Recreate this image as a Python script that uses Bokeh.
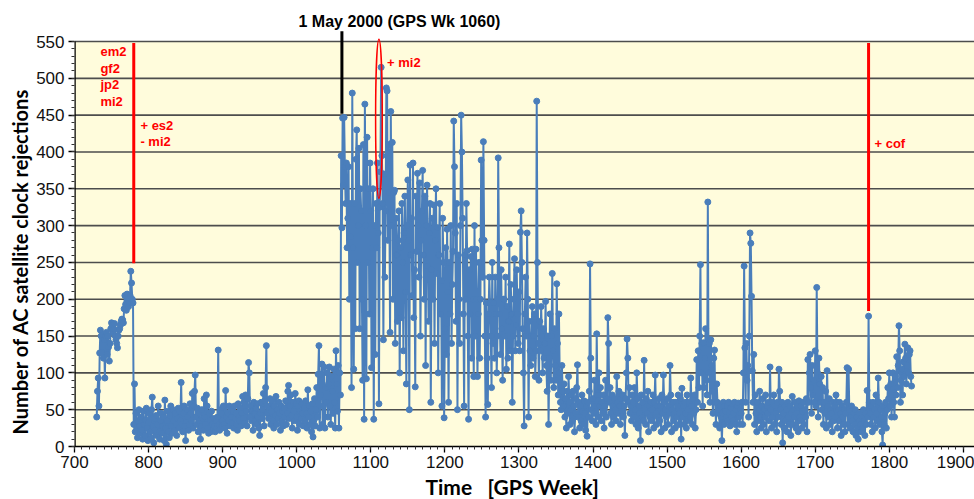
import numpy as np
from bokeh.plotting import figure
from bokeh.models import FixedTicker, Range1d, Title
from bokeh.embed import file_html
from bokeh.resources import INLINE
from bokeh.core.properties import value

# ---------------- data ----------------
first_week = 730
rejections = [
    40, 75, 93, 55, 127, 158, 150, 128, 152, 120,      # 730
    145, 93, 150, 155, 125, 150, 135, 116, 140, 160,   # 740
    168, 165, 155, 160, 167, 150, 145, 140, 134, 150,  # 750
    158, 160, 165, 170, 173, 172, 168, 187, 205, 193,  # 760
    185, 207, 200, 190, 196, 205, 238, 222, 200, 195,  # 770
    30, 85, 20, 45, 25, 12, 35, 50, 28, 18,            # 780
    40, 22, 10, 48, 30, 15, 36, 52, 25, 8,             # 790
    33, 45, 20, 12, 50, 67, 28, 5, 38, 22,             # 800
    42, 15, 30, 55, 20, 10, 35, 45, 18, 28,            # 810
    40, 8, 63, 25, 3, 35, 48, 20, 12, 42,              # 820
    55, 28, 18, 50, 35, 22, 45, 30, 15, 38,            # 830
    52, 25, 48, 35, 87, 30, 20, 45, 55, 28,            # 840
    8, 35, 50, 40, 22, 30, 58, 45, 35, 72,             # 850
    25, 55, 75, 97, 40, 30, 52, 20, 45, 35,            # 860
    10, 28, 50, 38, 22, 65, 40, 30, 70, 55,            # 870
    25, 18, 45, 35, 20, 48, 30, 22, 38, 28,            # 880
    20, 35, 25, 40, 131, 30, 22, 50, 45, 28,           # 890
    35, 55, 30, 25, 76, 40, 18, 45, 35, 55,            # 900
    28, 50, 40, 32, 48, 25, 55, 38, 45, 30,            # 910
    22, 58, 40, 35, 52, 28, 45, 68, 38, 60,            # 920
    32, 70, 48, 28, 65, 114, 100, 40, 55, 35,          # 930
    48, 22, 60, 45, 35, 52, 30, 58, 40, 25,            # 940
    15, 45, 60, 38, 50, 72, 28, 62, 80, 137,           # 950
    45, 55, 38, 50, 65, 30, 48, 62, 35, 25,            # 960
    55, 42, 68, 30, 50, 38, 60, 45, 22, 55,            # 970
    35, 48, 28, 52, 40, 62, 30, 45, 75, 83,            # 980
    38, 55, 70, 42, 25, 60, 48, 35, 72, 58,            # 990
    40, 22, 55, 62, 30, 48, 38, 58, 45, 28,            # 1000
    52, 35, 62, 45, 25, 77, 40, 55, 30, 48,            # 1010
    20, 58, 13, 35, 65, 28, 50, 80, 40, 98,            # 1020
    137, 25, 70, 98, 112, 30, 55, 108, 25, 80,         # 1030
    60, 100, 40, 85, 108, 55, 30, 95, 75, 45,          # 1040
    105, 60, 25, 130, 85, 48, 110, 25, 100, 70,        # 1050
    395, 297, 446, 355, 447, 380, 330, 385, 270, 310,  # 1060
    380, 200, 330, 285, 80, 480, 270, 105, 330, 160,   # 1070
    390, 430, 250, 300, 405, 160, 350, 320, 200, 90,   # 1080
    410, 37, 465, 300, 92, 420, 250, 350, 180, 385,    # 1090
    320, 107, 270, 350, 37, 300, 125, 330, 270, 385,   # 1100
    290, 58, 325, 373, 515, 395, 330, 145, 370, 230,   # 1110
    320, 487, 483, 280, 410, 345, 155, 455, 300, 413,  # 1120
    200, 345, 348, 140, 310, 260, 170, 280, 320, 100,  # 1130
    270, 175, 330, 250, 130, 290, 340, 210, 85, 300,   # 1140
    362, 280, 50, 382, 260, 310, 205, 385, 175, 240,   # 1150
    81, 340, 265, 371, 300, 230, 358, 150, 280, 320,   # 1160
    375, 260, 200, 340, 110, 300, 355, 245, 170, 290,  # 1170
    330, 60, 240, 310, 200, 328, 140, 280, 350, 235,   # 1180
    297, 100, 260, 330, 180, 225, 55, 310, 250, 39,    # 1190
    160, 270, 125, 295, 210, 60, 250, 180, 300, 140,   # 1200
    220, 265, 442, 380, 290, 170, 330, 50, 260, 200,   # 1210
    140, 300, 450, 400, 310, 180, 55, 260, 200, 330,   # 1220
    266, 150, 37, 240, 180, 258, 120, 268, 200, 95,    # 1230
    300, 150, 268, 200, 95, 180, 250, 120, 200, 389,   # 1240
    280, 230, 414, 280, 150, 40, 195, 120, 57, 180,    # 1250
    230, 195, 150, 80, 250, 140, 195, 120, 230, 180,   # 1260
    100, 150, 392, 270, 180, 125, 240, 160, 90, 200,   # 1270
    200, 150, 230, 105, 190, 120, 170, 275, 130, 220,  # 1280
    180, 60, 150, 200, 255, 130, 165, 240, 180, 140,   # 1290
    210, 130, 291, 320, 250, 160, 100, 28, 180, 230,   # 1300
    150, 290, 200, 40, 170, 130, 110, 150, 190, 120,   # 1310
    150, 180, 95, 130, 469, 250, 140, 90, 170, 130,    # 1320
    190, 150, 100, 160, 120, 140, 197, 110, 75, 150,   # 1330
    30, 120, 180, 90, 150, 235, 130, 80, 160, 110,     # 1340
    90, 221, 140, 70, 180, 100, 60, 50, 110, 75,       # 1350
    55, 85, 40, 65, 25, 75, 45, 95, 60, 30,            # 1360
    50, 70, 35, 75, 55, 20, 45, 65, 80, 111,           # 1370
    40, 60, 25, 55, 35, 70, 48, 30, 62, 45,            # 1380
    22, 55, 14, 60, 40, 75, 248, 120, 50, 35,          # 1390
    65, 45, 90, 55, 30, 153, 70, 40, 100, 55,          # 1400
    80, 35, 60, 45, 70, 25, 55, 90, 40, 65,            # 1410
    175, 140, 60, 80, 45, 30, 70, 55, 40, 65,          # 1420
    50, 35, 95, 60, 45, 75, 55, 30, 65, 48,            # 1430
    70, 40, 55, 15, 65, 100, 146, 120, 60, 80,         # 1440
    45, 55, 35, 70, 60, 40, 80, 50, 30, 100,           # 1450
    65, 25, 55, 45, 8, 70, 40, 60, 35, 117,            # 1460
    50, 30, 65, 45, 75, 20, 55, 40, 60, 35,            # 1470
    50, 70, 25, 60, 97, 45, 30, 55, 40, 65,            # 1480
    35, 55, 20, 70, 45, 97, 60, 25, 50, 40,            # 1490
    65, 30, 55, 45, 110, 70, 20, 50, 60, 35,           # 1500
    45, 25, 60, 40, 55, 70, 30, 45, 65, 10,            # 1510
    79, 40, 55, 30, 60, 45, 25, 70, 50, 35,            # 1520
    60, 40, 93, 55, 30, 65, 45, 70, 25, 50,            # 1530
    118, 60, 130, 80, 150, 247, 100, 140, 55, 141,     # 1540
    80, 120, 160, 90, 70, 332, 100, 140, 60, 145,      # 1550
    110, 75, 45, 120, 131, 60, 30, 85, 60, 45,         # 1560
    50, 25, 55, 40, 8, 45, 60, 30, 55, 48,             # 1570
    40, 55, 35, 60, 45, 28, 52, 40, 58, 35,            # 1580
    45, 60, 30, 50, 20, 55, 59, 40, 30, 50,            # 1590
    45, 60, 30, 100, 245, 134, 60, 140, 90, 110,       # 1600
    40, 150, 290, 276, 204, 103, 60, 125, 30, 70,      # 1610
    45, 20, 60, 35, 50, 75, 40, 25, 55, 65,            # 1620
    30, 50, 40, 70, 20, 55, 45, 60, 35, 108,           # 1630
    50, 25, 60, 40, 70, 30, 55, 45, 20, 60,            # 1640
    40, 105, 75, 50, 30, 60, 5, 45, 25, 55,            # 1650
    35, 50, 20, 60, 40, 30, 55, 15, 45, 68,            # 1660
    30, 50, 40, 60, 25, 45, 55, 20, 62, 40,            # 1670
    35, 55, 25, 48, 60, 30, 50, 40, 65, 20,            # 1680
    118, 60, 100, 125, 80, 45, 110, 70, 90, 60,        # 1690
    130, 55, 216, 100, 40, 120, 85, 60, 95, 50,        # 1700
    80, 30, 60, 45, 75, 25, 103, 55, 40, 65,           # 1710
    30, 50, 45, 20, 60, 35, 55, 40, 70, 60,            # 1720
    25, 50, 35, 60, 45, 15, 55, 40, 30, 50,            # 1730
    20, 45, 60, 107, 30, 105, 50, 25, 40, 55,          # 1740
    35, 20, 45, 30, 50, 15, 40, 25, 10, 35,            # 1750
    45, 30, 20, 40, 25, 50, 35, 15, 45, 30,            # 1760
    76, 40, 177, 60, 45, 30, 55, 20, 60, 40,           # 1770
    50, 25, 70, 45, 35, 93, 60, 30, 50, 40,            # 1780
    20, 2, 55, 30, 45, 60, 25, 50, 80, 65,             # 1790
    100, 55, 85, 40, 70, 100, 60, 40, 95, 70,          # 1800
    122, 80, 110, 164, 130, 60, 90, 105, 70, 115,      # 1810
    95, 139, 120, 85, 110, 134, 100, 125, 130, 95,     # 1820
    82,                                                # 1830
]
weeks = list(range(first_week, first_week + len(rejections)))

x_ticks = list(range(700, 2000, 100))
y_ticks = list(range(0, 551, 50))

# solution changes (red lines) and event (black line)
change_weeks = [780, 1772]
change_bottoms = [249, 184]
event_week = 1061
event_title = "1 May 2000 (GPS Wk 1060)"

# ---------------- figure ----------------
X0, X1 = 700, 1915
YTOP = 565
p = figure(width=974, height=499, output_backend="svg", toolbar_location=None,
           x_range=Range1d(X0, X1), y_range=Range1d(0, YTOP),
           min_border_left=74, min_border_right=0, min_border_top=30,
           min_border_bottom=52)
p.background_fill_color = "white"
p.border_fill_color = "white"
p.outline_line_color = None
p.grid.visible = False

# title (event)
p.title.text = event_title
p.title.align = "left"
p.title.offset = 224
p.title.text_font = "Liberation Sans"
p.title.text_font_style = "bold"
p.title.text_font_size = "16px"
p.title.text_color = "black"
p.title.standoff = 2

# plot area background (yellow) up to 550
p.quad(left=X0, right=X1, bottom=0, top=550, fill_color="#FFFCDC", line_color=None)
# horizontal grid lines
p.segment(x0=[X0] * (len(y_ticks) - 1), x1=[X1] * (len(y_ticks) - 1),
          y0=y_ticks[1:], y1=y_ticks[1:], line_color="#4d4d4d", line_width=1.6)
# left frame edge
p.segment(x0=[X0], x1=[X0], y0=[0], y1=[550], line_color="black", line_width=2.5)

# axes
p.xaxis.ticker = FixedTicker(ticks=x_ticks, minor_ticks=list(range(700, 1910, 10)))
p.yaxis.ticker = FixedTicker(ticks=y_ticks, minor_ticks=list(range(0, 551, 10)))
for ax in (p.xaxis, p.yaxis):
    ax.major_tick_in = 0
    ax.major_tick_out = 6
    ax.minor_tick_in = 0
    ax.minor_tick_out = 3
    ax.major_tick_line_color = "black"
    ax.minor_tick_line_color = "#333333"
    ax.major_tick_line_width = 1.3
    ax.minor_tick_line_width = 1
    ax.major_label_text_font = "Liberation Sans"
    ax.major_label_text_font_size = "17px"
    ax.major_label_text_color = "#111111"
p.yaxis.axis_line_color = None
p.xaxis.axis_line_color = "black"
p.xaxis.axis_line_width = 1.5
p.xaxis.major_label_standoff = 3
p.yaxis.major_label_standoff = 4

# axis titles as side titles
ylab = Title(text="Number of AC satellite clock rejections", align="left", offset=12,
             text_font="Lato", text_font_style="bold", text_font_size="20px",
             text_color="black", standoff=4)
p.add_layout(ylab, "left")
xlab = Title(text="Time\u00a0\u00a0\u00a0[GPS Week]", align="left", offset=351,
             text_font="Lato", text_font_style="bold", text_font_size="21px",
             text_color="black", standoff=2)
p.add_layout(xlab, "below")

# data
blue = "#4A7EBB"
p.line(weeks, rejections, line_color=blue, line_width=2)
p.scatter(weeks, rejections, size=6, fill_color=blue, line_color=blue)

# annotation lines
p.segment(x0=change_weeks, x1=change_weeks, y0=change_bottoms, y1=[548, 548],
          line_color="#FF0000", line_width=3)
p.segment(x0=[event_week], x1=[event_week], y0=[452], y1=[564],
          line_color="black", line_width=3)
p.ellipse(x=[1111], y=[445], width=9, height=216, fill_color=None,
          line_color="#FF0000", line_width=1.5)

red_font = dict(text_font=value("Liberation Sans"), text_font_style="bold",
                text_font_size="13px", text_color="#FF0000",
                text_baseline="middle", text_align="left")
p.text(x=[735] * 4, y=[537, 514, 491, 468], text=["em2", "gf2", "jp2", "mi2"], **red_font)
p.text(x=[789, 789], y=[436, 414], text=["+ es2", "- mi2"], **red_font)
p.text(x=[1122], y=[522], text=["+ mi2"], **red_font)
p.text(x=[1780], y=[412], text=["+ cof"], **red_font)

open("out.html", "w").write(file_html(p, INLINE))
